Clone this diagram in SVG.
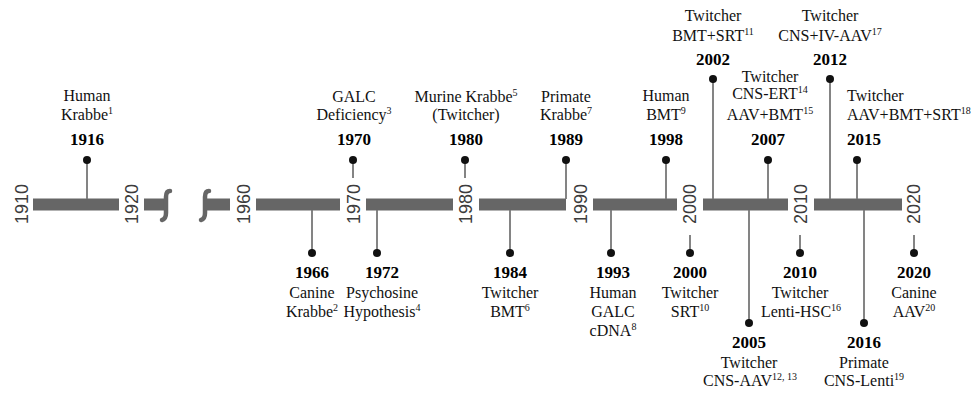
<svg xmlns="http://www.w3.org/2000/svg" width="976" height="395" viewBox="0 0 976 395">
<style>
.bar{fill:#666}
.sq{fill:none;stroke:#666;stroke-width:4.5;stroke-linecap:round}
.stem{stroke:#777;stroke-width:1.8}
.dot{fill:#111}
.ax{font-family:"Liberation Sans",Arial,sans-serif;font-size:18px;fill:#3c3c3c;text-anchor:middle}
.t{font-family:"Liberation Serif","DejaVu Serif",serif;font-size:16px;fill:#111;text-anchor:middle}
.y{font-family:"Liberation Serif","DejaVu Serif",serif;font-size:17px;font-weight:bold;fill:#000;text-anchor:middle}
.l{text-anchor:start}
.s{font-size:10px}
</style>
<rect width="976" height="395" fill="#fff"/>
<g id="axis">
<rect class="bar" x="33" y="198.5" width="86" height="12"/>
<rect class="bar" x="144" y="198.5" width="21" height="12"/>
<path class="sq" d="M170,191 Q166,191 166,197 L166,213 Q166,219 162,220"/>
<path class="sq" d="M209,191 Q205,191 205,197 L205,213 Q205,219 201,220"/>
<rect class="bar" x="205" y="198.5" width="25" height="12"/>
<rect class="bar" x="256" y="198.5" width="84" height="12"/>
<rect class="bar" x="366" y="198.5" width="87" height="12"/>
<rect class="bar" x="479" y="198.5" width="87" height="12"/>
<rect class="bar" x="593" y="198.5" width="84" height="12"/>
<rect class="bar" x="703" y="198.5" width="85" height="12"/>
<rect class="bar" x="814" y="198.5" width="88" height="12"/>
<text class="ax" transform="translate(21.5,204) rotate(-90)" y="6.4">1910</text>
<text class="ax" transform="translate(131.5,204) rotate(-90)" y="6.4">1920</text>
<text class="ax" transform="translate(243.5,204) rotate(-90)" y="6.4">1960</text>
<text class="ax" transform="translate(353.5,204) rotate(-90)" y="6.4">1970</text>
<text class="ax" transform="translate(466,204) rotate(-90)" y="6.4">1980</text>
<text class="ax" transform="translate(581,204) rotate(-90)" y="6.4">1990</text>
<text class="ax" transform="translate(690,204) rotate(-90)" y="6.4">2000</text>
<text class="ax" transform="translate(801,204) rotate(-90)" y="6.4">2010</text>
<text class="ax" transform="translate(914,204) rotate(-90)" y="6.4">2020</text>
</g>
<g id="connectors">
<line class="stem" x1="87" y1="160" x2="87" y2="199"/>
<line class="stem" x1="353" y1="160" x2="353" y2="178"/>
<line class="stem" x1="465" y1="160" x2="465" y2="178"/>
<line class="stem" x1="566" y1="160" x2="566" y2="199"/>
<line class="stem" x1="666" y1="160" x2="666" y2="199"/>
<line class="stem" x1="713" y1="79" x2="713" y2="199"/>
<line class="stem" x1="768" y1="160" x2="768" y2="199"/>
<line class="stem" x1="830" y1="79" x2="830" y2="199"/>
<line class="stem" x1="857" y1="160" x2="857" y2="199"/>
<line class="stem" x1="312" y1="210" x2="312" y2="253"/>
<line class="stem" x1="377" y1="210" x2="377" y2="253"/>
<line class="stem" x1="510" y1="210" x2="510" y2="253"/>
<line class="stem" x1="611" y1="210" x2="611" y2="253"/>
<line class="stem" x1="690" y1="235" x2="690" y2="253"/>
<line class="stem" x1="749" y1="210" x2="749" y2="323"/>
<line class="stem" x1="800" y1="235" x2="800" y2="253"/>
<line class="stem" x1="864" y1="210" x2="864" y2="323"/>
<line class="stem" x1="914" y1="235" x2="914" y2="253"/>
</g>
<g id="e1916"><circle class="dot" cx="87" cy="160" r="4"/><text class="t" x="87" y="101">Human</text><text class="t" x="87" y="120">Krabbe<tspan class="s" dy="-6">1</tspan></text><text class="y" x="87" y="145">1916</text></g>
<g id="e1970"><circle class="dot" cx="353" cy="160" r="4"/><text class="t" x="354" y="102">GALC</text><text class="t" x="354" y="120">Deficiency<tspan class="s" dy="-6">3</tspan></text><text class="y" x="354" y="145">1970</text></g>
<g id="e1980"><circle class="dot" cx="465" cy="160" r="4"/><text class="t" x="466" y="102">Murine Krabbe<tspan class="s" dy="-6">5</tspan></text><text class="t" x="466" y="120">(Twitcher)</text><text class="y" x="466" y="145">1980</text></g>
<g id="e1989"><circle class="dot" cx="566" cy="160" r="4"/><text class="t" x="566" y="102">Primate</text><text class="t" x="566" y="120">Krabbe<tspan class="s" dy="-6">7</tspan></text><text class="y" x="566" y="145">1989</text></g>
<g id="e1998"><circle class="dot" cx="666" cy="160" r="4"/><text class="t" x="666" y="101">Human</text><text class="t" x="666" y="120">BMT<tspan class="s" dy="-6">9</tspan></text><text class="y" x="666" y="145">1998</text></g>
<g id="e2002"><circle class="dot" cx="713" cy="79" r="4"/><text class="t" x="713" y="21">Twitcher</text><text class="t" x="713" y="41">BMT+SRT<tspan class="s" dy="-6">11</tspan></text><text class="y" x="713" y="65">2002</text></g>
<g id="e2007"><circle class="dot" cx="768" cy="160" r="4"/><text class="t" x="770" y="82">Twitcher</text><text class="t" x="770" y="99">CNS-ERT<tspan class="s" dy="-6">14</tspan></text><text class="t" x="770" y="120">AAV+BMT<tspan class="s" dy="-6">15</tspan></text><text class="y" x="768" y="145">2007</text></g>
<g id="e2012"><circle class="dot" cx="830" cy="79" r="4"/><text class="t" x="830" y="21">Twitcher</text><text class="t" x="830" y="41">CNS+IV-AAV<tspan class="s" dy="-6">17</tspan></text><text class="y" x="830" y="65">2012</text></g>
<g id="e2015"><circle class="dot" cx="857" cy="160" r="4"/><text class="t l" x="847" y="101">Twitcher</text><text class="t l" x="847" y="120">AAV+BMT+SRT<tspan class="s" dy="-6">18</tspan></text><text class="y l" x="847" y="145">2015</text></g>
<g id="e1966"><circle class="dot" cx="312" cy="253" r="4"/><text class="y" x="312" y="278">1966</text><text class="t" x="312" y="298">Canine</text><text class="t" x="312" y="317">Krabbe<tspan class="s" dy="-6">2</tspan></text></g>
<g id="e1972"><circle class="dot" cx="377" cy="253" r="4"/><text class="y" x="382" y="278">1972</text><text class="t" x="382" y="298">Psychosine</text><text class="t" x="382" y="317">Hypothesis<tspan class="s" dy="-6">4</tspan></text></g>
<g id="e1984"><circle class="dot" cx="510" cy="253" r="4"/><text class="y" x="510" y="278">1984</text><text class="t" x="510" y="298">Twitcher</text><text class="t" x="510" y="317">BMT<tspan class="s" dy="-6">6</tspan></text></g>
<g id="e1993"><circle class="dot" cx="611" cy="253" r="4"/><text class="y" x="613" y="278">1993</text><text class="t" x="613" y="298">Human</text><text class="t" x="613" y="317">GALC</text><text class="t" x="613" y="336">cDNA<tspan class="s" dy="-6">8</tspan></text></g>
<g id="e2000"><circle class="dot" cx="690" cy="253" r="4"/><text class="y" x="690" y="278">2000</text><text class="t" x="690" y="298">Twitcher</text><text class="t" x="690" y="317">SRT<tspan class="s" dy="-6">10</tspan></text></g>
<g id="e2005"><circle class="dot" cx="749" cy="323" r="4"/><text class="y" x="749" y="348">2005</text><text class="t" x="749" y="368">Twitcher</text><text class="t" x="750" y="386">CNS-AAV<tspan class="s" dy="-6">12, 13</tspan></text></g>
<g id="e2010"><circle class="dot" cx="800" cy="253" r="4"/><text class="y" x="800" y="278">2010</text><text class="t" x="800" y="298">Twitcher</text><text class="t" x="801" y="317">Lenti-HSC<tspan class="s" dy="-6">16</tspan></text></g>
<g id="e2016"><circle class="dot" cx="864" cy="323" r="4"/><text class="y" x="864" y="348">2016</text><text class="t" x="864" y="368">Primate</text><text class="t" x="864" y="386">CNS-Lenti<tspan class="s" dy="-6">19</tspan></text></g>
<g id="e2020"><circle class="dot" cx="914" cy="253" r="4"/><text class="y" x="914" y="278">2020</text><text class="t" x="914" y="298">Canine</text><text class="t" x="914" y="317">AAV<tspan class="s" dy="-6">20</tspan></text></g>
</svg>
